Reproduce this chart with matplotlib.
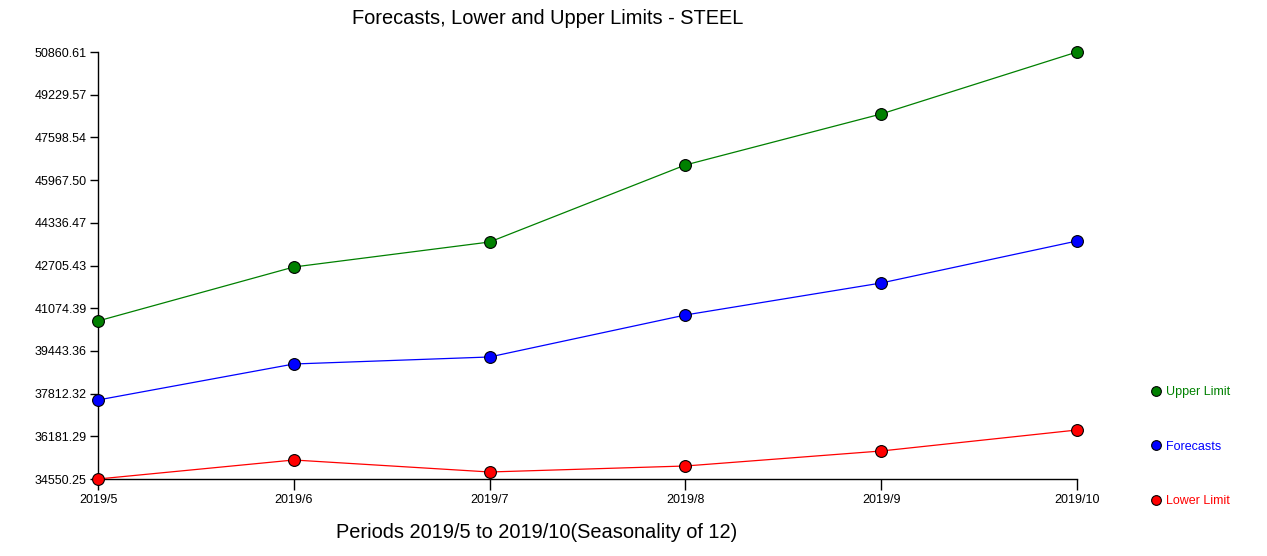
import numpy as np
import matplotlib.pyplot as plt
from matplotlib.lines import Line2D

plt.rcParams['font.family'] = ['Liberation Sans', 'DejaVu Sans']

periods = ["2019/5", "2019/6", "2019/7", "2019/8", "2019/9", "2019/10"]
upper_limit = [40586, 42648, 43603, 46545, 48493, 50860.61]
forecasts = [37568, 38943, 39211, 40815, 42037, 43642]
lower_limit = [34550.25, 35276, 34818, 35047, 35620, 36422]

W, H = 1267, 556
fig = plt.figure(figsize=(W / 100, H / 100), dpi=100)
ax = fig.add_axes([98 / W, 1 - 479 / H, (1077 - 98) / W, (479 - 52) / H])

x = np.arange(len(periods))
series = [(upper_limit, "green", "Upper Limit"),
          (forecasts, "blue", "Forecasts"),
          (lower_limit, "red", "Lower Limit")]
for vals, col, lab in series:
    ax.plot(x, vals, color=col, lw=0.9, marker="o", markersize=8.5,
            markerfacecolor=col, markeredgecolor="black", markeredgewidth=0.8,
            clip_on=False, zorder=3)

ymin, ymax = min(lower_limit), max(upper_limit)
ax.set_xlim(0, len(periods) - 1)
ax.set_ylim(ymin, ymax)
ax.set_xticks(x, labels=periods)
yt = np.linspace(ymin, ymax, 11)
ax.set_yticks(yt, labels=["%.2f" % v for v in yt])
ax.tick_params(axis="x", direction="out", length=8, width=1, labelsize=9, pad=3)
ax.tick_params(axis="y", direction="out", length=6, width=1, labelsize=9, pad=2)
for s in ["top", "right"]:
    ax.spines[s].set_visible(False)
ax.spines["left"].set_linewidth(1)
ax.spines["bottom"].set_linewidth(1)

fig.text(548 / W, 1 - 18 / H, "Forecasts, Lower and Upper Limits - STEEL",
         ha="center", va="center", fontsize=14.4)
fig.text(537 / W, 1 - 532 / H, "Periods 2019/5 to 2019/10(Seasonality of 12)",
         ha="center", va="center", fontsize=14.4)

handles = [Line2D([], [], ls="none", marker="o", markersize=7, markerfacecolor=c,
                  markeredgecolor="black", markeredgewidth=0.8) for _, c, _ in series]
fig.legend(handles, [l for _, _, l in series], loc="upper left",
           bbox_to_anchor=(1145 / W, 1 - 380 / H), frameon=False, fontsize=9,
           labelcolor=[c for _, c, _ in series], handlelength=0.8,
           handletextpad=0.4, labelspacing=3.39, borderpad=0)

fig.savefig("out.png", dpi=100)
